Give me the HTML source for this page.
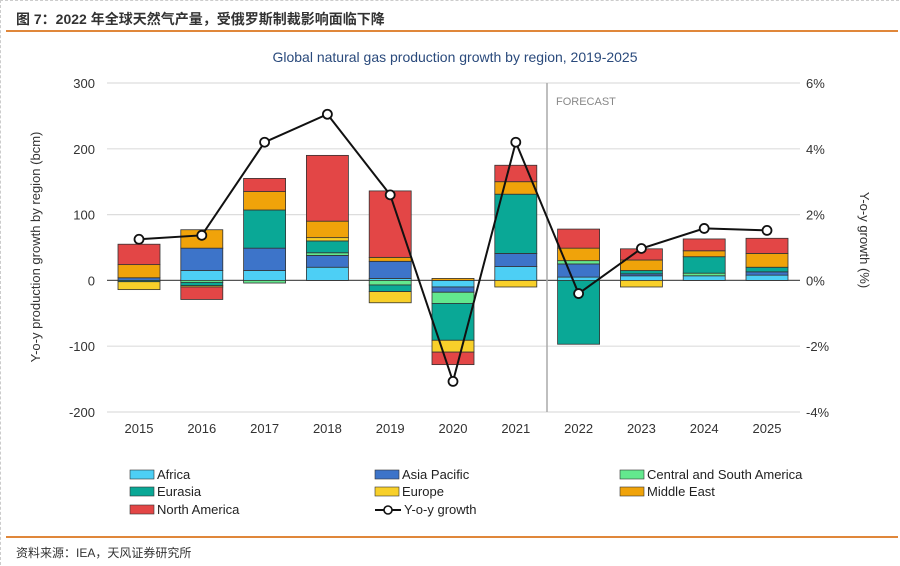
<!DOCTYPE html>
<html><head><meta charset="utf-8"><style>
body{margin:0;background:#fff;width:900px;height:566px;overflow:hidden;font-family:"Liberation Sans","Noto Sans CJK SC",sans-serif;}
#frame{position:absolute;left:0;top:0;width:898px;height:564px;border-top:1px dashed #ccc;border-left:1px dashed #ccc;}
#hdr{position:absolute;left:16px;top:9px;font-size:14px;font-weight:bold;color:#333;}
#hl{position:absolute;left:6px;top:30px;width:892px;height:2px;background:#e0873a;}
#bl{position:absolute;left:6px;top:536px;width:892px;height:2px;background:#e0873a;}
#src{position:absolute;left:16px;top:544px;font-size:12px;color:#333;}
svg{position:absolute;left:0;top:0;}
</style></head><body>
<div id="frame"></div>
<div id="hdr">图 7：2022 年全球天然气产量，受俄罗斯制裁影响面临下降</div>
<div id="hl"></div>
<div id="bl"></div>
<div id="src">资料来源：IEA，天风证券研究所</div>
<svg id="chart" width="900" height="566"></svg>
<script>
const years=["2015","2016","2017","2018","2019","2020","2021","2022","2023","2024","2025"];
const africa=[0,15,15,20,3,-10,21,5,7,7,8];
const asiaPacific=[4,34,34,18,26,-8,20,20,3,0,5];
const csAmerica=[0,-3,-4,4,-7,-17,0,5,0,4,0];
const eurasia=[-2,-5,58,18,-10,-56,90,-97,5,25,7];
const europe=[-12,-2,0,5,-17,-18,-10,0,-10,0,0];
const middleEast=[20,28,28,25,6,3,19,19,16,9,21];
const northAmerica=[31,-19,20,100,101,-19,25,29,17,18,23];
const growth=[1.25,1.37,4.2,5.05,2.6,-3.07,4.2,-0.4,0.97,1.58,1.52];
const leftTicks=[300,200,100,0,-100,-200];
const rightTicks=["6%","4%","2%","0%","-2%","-4%"];
const seriesNames=["Africa","Asia Pacific","Central and South America","Eurasia","Europe","Middle East","North America"];
const seriesColors=["#4dcff5","#3d74c9","#63e88e","#0aa896","#f8d02a","#f0a30a","#e34646"];
const series=[africa,asiaPacific,csAmerica,eurasia,europe,middleEast,northAmerica];

const svg=document.getElementById('chart');
const NS='http://www.w3.org/2000/svg';
const X0=107,X1=800,Ytop=83,Ybot=412;
const yL=v=>Ybot-(v+200)/500*(Ybot-Ytop);
const yR=p=>Ybot-(p+4)/10*(Ybot-Ytop);
const step=(X1-X0+ -60)/ (years.length-1);
const xc=i=>139+i*62.8;
function mk(t,a,txt){const e=document.createElementNS(NS,t);for(const k in a)e.setAttribute(k,a[k]);if(txt!==undefined)e.textContent=txt;svg.appendChild(e);return e;}

let t=mk('text',{x:455,y:62,'text-anchor':'middle','font-size':14,fill:'#2a4a7c'},'Global natural gas production growth by region, 2019-2025');

leftTicks.forEach((v,i)=>{
 const y=yL(v);
 const g=mk('line',{x1:X0,x2:X1,y1:y,y2:y,stroke:v===0?'#555':'#ddd','stroke-width':v===0?1.2:1.2});
 
 const l=mk('text',{x:95,y:y+5,'text-anchor':'end','font-size':13,fill:'#333'},v);
 
 const r=mk('text',{x:806,y:y+5,'text-anchor':'start','font-size':13,fill:'#333'},rightTicks[i]);
 
});
let yt=mk('text',{x:0,y:0,'text-anchor':'middle','font-size':13,fill:'#333',transform:'translate(40,247) rotate(-90)'},'Y-o-y production growth by region (bcm)');

let yt2=mk('text',{x:0,y:0,'text-anchor':'middle','font-size':13,fill:'#333',transform:'translate(860,240) rotate(90)'},'Y-o-y growth (%)');

let fl=mk('line',{x1:547,x2:547,y1:Ytop,y2:Ybot,stroke:'#aaa','stroke-width':1.5});

let ft=mk('text',{x:556,y:105,'font-size':11,fill:'#888'},'FORECAST');


years.forEach((yr,i)=>{
 let pos=0,neg=0;
 series.forEach((s,k)=>{
  const v=s[i];if(!v)return;
  let a,b;
  if(v>0){a=pos;b=pos+v;pos=b;}else{a=neg;b=neg+v;neg=b;}
  const y1=yL(Math.max(a,b)),y2=yL(Math.min(a,b));
  const r=mk('rect',{x:xc(i)-21,y:y1,width:42,height:y2-y1,fill:seriesColors[k],stroke:'#333','stroke-width':0.8});
  
  
 });
 const xl=mk('text',{x:xc(i),y:433,'text-anchor':'middle','font-size':13,fill:'#333'},yr);
 
});
let pts=growth.map((g,i)=>xc(i)+','+yR(g)).join(' ');
let pl=mk('polyline',{points:pts,fill:'none',stroke:'#111','stroke-width':2});

growth.forEach((g,i)=>{
 const c=mk('circle',{cx:xc(i),cy:yR(g),r:4.5,fill:'#fff',stroke:'#111','stroke-width':1.8});
 
});
// legend
const legPos=[[130,475],[375,475],[620,475],[130,492],[375,492],[620,492],[130,510]];
seriesNames.forEach((n,k)=>{
 const [lx,ly]=legPos[k];
 const r=mk('rect',{x:lx,y:ly-5,width:24,height:9,fill:seriesColors[k],stroke:'#333','stroke-width':0.6});
 
 const tx=mk('text',{x:lx+27,y:ly+4,'font-size':13,fill:'#222'},n);
 
});
let ll=mk('line',{x1:375,x2:401,y1:510,y2:510,stroke:'#111','stroke-width':2});

let lc=mk('circle',{cx:388,cy:510,r:4,fill:'#fff',stroke:'#111','stroke-width':1.6});

let lt=mk('text',{x:404,y:514,'font-size':13,fill:'#222'},'Y-o-y growth');

</script>
</body></html>
